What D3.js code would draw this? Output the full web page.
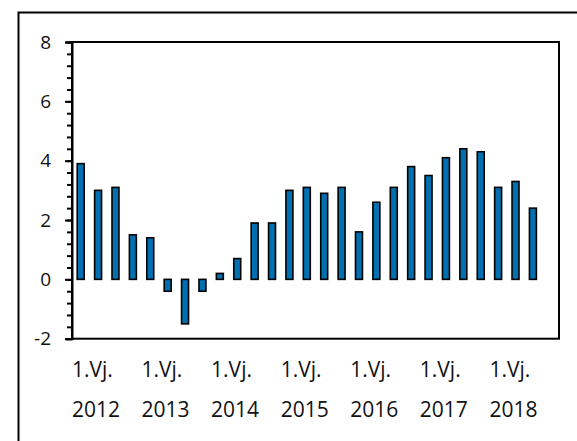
<!DOCTYPE html>
<meta charset="utf-8">
<style>
body { margin: 0; background: #fff; }
svg { display: block; font-family: 'Open Sans', sans-serif; }
</style>
<body>
<script src="https://cdn.jsdelivr.net/npm/d3@7"></script>
<script>
// quarterly values, 2012 Q1 .. 2018 Q4 (last quarter not yet published)
var years = ['2012', '2013', '2014', '2015', '2016', '2017', '2018']
var quarters = ['1', '2', '3', '4']
var values = [3.9, 3.0, 3.1, 1.5,
              1.4, -0.4, -1.5, -0.4,
              0.2, 0.7, 1.9, 1.9,
              3.0, 3.1, 2.9, 3.1,
              1.6, 2.6, 3.1, 3.8,
              3.5, 4.1, 4.4, 4.3,
              3.1, 3.3, 2.4, null]
var yTicks = [-2, 0, 2, 4, 6, 8]
var xLabel = '1.Vj.'

var width = 577, height = 441
var plot = {left: 72, top: 42, right: 559, bottom: 338.7}

var data = []
years.forEach(function (yr, i) {
    quarters.forEach(function (q, j) {
        data.push({key: yr + 'Q' + q, year: yr, q: q, v: values[i * 4 + j]})
    })
})

var svg = d3.select('body').append('svg')
    .attr('width', width)
    .attr('height', height)

// outer frame (only top and left edges fall inside the picture)
svg.append('rect')
    .attr('x', 18.5).attr('y', 12.5)
    .attr('width', 700).attr('height', 600)
    .attr('fill', 'none').attr('stroke', '#000').attr('stroke-width', 2)

var x = d3.scaleBand()
    .domain(data.map(d => d.key))
    .range([plot.left, plot.right])
    .paddingInner(0.6)
    .paddingOuter(0.3)

var y = d3.scaleLinear()
    .domain([-2, 8])
    .range([plot.bottom, plot.top])

// plot border
svg.append('rect')
    .attr('x', plot.left).attr('y', plot.top)
    .attr('width', plot.right - plot.left).attr('height', plot.bottom - plot.top)
    .attr('fill', 'none').attr('stroke', '#000').attr('stroke-width', 2)

svg.append('g')
    .selectAll('rect')
    .data(data.filter(d => d.v != null))
    .enter().append('rect')
    .attr('x', d => x(d.key))
    .attr('width', x.bandwidth())
    .attr('y', d => y(Math.max(0, d.v)))
    .attr('height', d => Math.abs(y(d.v) - y(0)))
    .attr('fill', '#0070b0')
    .attr('stroke', '#000')
    .attr('stroke-width', 1.6)

// y axis: minor ticks every 0.4, major every 2
var yMinor = d3.axisLeft(y).tickValues(d3.range(-2, 8.01, 0.4)).tickSize(5).tickFormat('')
svg.append('g')
    .attr('transform', 'translate(' + plot.left + ',0)')
    .call(yMinor)
    .call(g => g.select('.domain').remove())
    .selectAll('line').attr('stroke-width', 2)

var yAxis = d3.axisLeft(y).tickValues(yTicks).tickSize(7).tickPadding(14).tickFormat(d => String(d))
svg.append('g')
    .attr('transform', 'translate(' + plot.left + ',0)')
    .call(yAxis)
    .call(g => g.select('.domain').attr('stroke-width', 2))
    .call(g => g.selectAll('line').attr('stroke-width', 2))
    .call(g => g.selectAll('text').attr('font-size', 19).attr('font-family', "'Open Sans', sans-serif").attr('fill', '#111'))

// x labels at the first quarter of each year
var xl = svg.append('g')
    .selectAll('g')
    .data(data.filter(d => d.q === '1'))
    .enter().append('g')
    .attr('transform', d => 'translate(' + (x(d.key) - x.bandwidth() * 0.9 + 1) + ',0)')

xl.append('text')
    .attr('y', 376.5)
    .attr('font-size', 21)
    .attr('fill', '#111')
    .text(xLabel)

xl.append('text')
    .attr('y', 416.5)
    .attr('font-size', 21)
    .attr('fill', '#111')
    .text(d => d.year)
</script>
</body>
